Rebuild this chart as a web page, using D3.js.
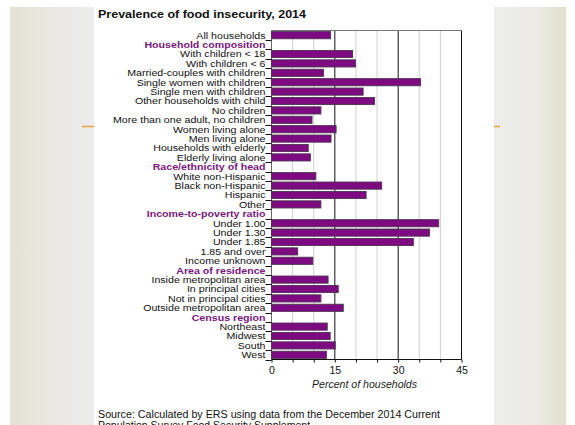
<!DOCTYPE html>
<html><head><meta charset="utf-8">
<script src="https://cdn.jsdelivr.net/npm/d3@7"></script>
<style>body{margin:0;background:#fff}svg{display:block}</style>
</head><body>
<script>
const categories = ["All households","Household composition","With children < 18","With children < 6","Married-couples with children","Single women with children","Single men with children","Other households with child","No children","More than one adult, no children","Women living alone","Men living alone","Households with elderly","Elderly living alone","Race/ethnicity of head","White non-Hispanic","Black non-Hispanic","Hispanic","Other","Income-to-poverty ratio","Under 1.00","Under 1.30","Under 1.85","1.85 and over","Income unknown","Area of residence","Inside metropolitan area","In principal cities","Not in principal cities","Outside metropolitan area","Census region","Northeast","Midwest","South","West"];
const headers = ["Household composition","Race/ethnicity of head","Income-to-poverty ratio","Area of residence","Census region"];
const values = [14.0,null,19.2,19.9,12.3,35.3,21.7,24.4,11.7,9.6,15.3,14.1,8.7,9.2,null,10.5,26.1,22.4,11.7,null,39.6,37.4,33.6,6.2,9.8,null,13.4,15.8,11.7,17.0,null,13.2,13.9,15.1,13.0];
const xTicks = [0,15,30,45];
const minorTicks = [5,10,20,25,35,40];
const title = "Prevalence of food insecurity, 2014";
const xTitle = "Percent of households";
const source1 = "Source: Calculated by ERS using data from the December 2014 Current";
const source2 = "Population Survey Food Security Supplement.";

const W = 575, H = 425;
const FONT = "'Liberation Sans', Arial, Helvetica, sans-serif";
const svg = d3.select("body").append("svg").attr("width", W).attr("height", H)
  .style("font-family", FONT);

const defs = svg.append("defs");
const gL = defs.append("linearGradient").attr("id","gl").attr("x1","0").attr("x2","1").attr("y1","0").attr("y2","0");
gL.append("stop").attr("offset","0").attr("stop-color","#e4e2d2");
gL.append("stop").attr("offset","0.5").attr("stop-color","#e9e8e2");
gL.append("stop").attr("offset","1").attr("stop-color","#ececec");
const gR = defs.append("linearGradient").attr("id","gr").attr("x1","0").attr("x2","1").attr("y1","0").attr("y2","0");
gR.append("stop").attr("offset","0").attr("stop-color","#ededed");
gR.append("stop").attr("offset","0.6").attr("stop-color","#ebeae4");
gR.append("stop").attr("offset","1").attr("stop-color","#e2e0cd");

svg.append("rect").attr("x",10).attr("y",7).attr("width",84).attr("height",H-7).attr("fill","url(#gl)");
svg.append("rect").attr("x",494).attr("y",7).attr("width",72).attr("height",H-7).attr("fill","url(#gr)");
svg.append("line").attr("x1",82).attr("x2",500).attr("y1",126.5).attr("y2",126.5).attr("stroke","#e8a040").attr("stroke-width",1.5);
svg.append("rect").attr("x",94).attr("y",7).attr("width",400).attr("height",H-7).attr("fill","#fff");

const x = d3.scaleLinear().domain([0,45]).range([271.5,461.5]);
const y = d3.scaleBand().domain(categories).range([30.5,359.5]).paddingInner(0.24).paddingOuter(0.12);
const step = y.step();

// gridlines
svg.append("g").selectAll("line").data(minorTicks).join("line")
  .attr("x1",d=>x(d)).attr("x2",d=>x(d)).attr("y1",30.5).attr("y2",359.5)
  .attr("stroke","#cfcfcf").attr("stroke-width",1);
svg.append("g").selectAll("line").data(xTicks.slice(1)).join("line")
  .attr("x1",d=>x(d)).attr("x2",d=>x(d)).attr("y1",30.5).attr("y2",359.5)
  .attr("stroke","#111").attr("stroke-width",1);
svg.append("line").attr("x1",x(0)).attr("x2",x(45)).attr("y1",30.5).attr("y2",30.5).attr("stroke","#777");
svg.append("line").attr("x1",x(0)).attr("x2",x(0)).attr("y1",30.5).attr("y2",359.5).attr("stroke","#666");

// bars
const data = categories.map((c,i)=>({c, v: values[i]})).filter(d=>d.v!==null);
svg.append("g").selectAll("rect").data(data).join("rect")
  .attr("x",x(0)).attr("y",d=>y(d.c)).attr("width",d=>x(d.v)-x(0)).attr("height",y.bandwidth())
  .attr("fill","#7d0a80").attr("stroke","#4d3350").attr("stroke-width",0.9);

// y labels & ticks (labels slightly widened like the reference)
const yl = svg.append("g");
yl.selectAll("text").data(categories).join("text")
  .attr("transform", d=>`translate(265.5,${y(d)+y.bandwidth()/2+3.4}) scale(1.12,1)`)
  .attr("text-anchor","end")
  .attr("font-size", 9.5)
  .attr("font-weight", d=>headers.includes(d)?"bold":"normal")
  .attr("fill", d=>headers.includes(d)?"#7a1680":"#111")
  .text(d=>d);
yl.selectAll("line").data(categories).join("line")
  .attr("x1",265.5).attr("x2",271.5)
  .attr("y1",d=>Math.round(y(d)-step*0.12+step)+0.5).attr("y2",d=>Math.round(y(d)-step*0.12+step)+0.5)
  .attr("stroke","#111").attr("stroke-width",1);

// x axis
const xAxis = d3.axisBottom(x).tickValues(d3.range(0,46,5)).tickSize(3)
  .tickFormat(d=>xTicks.includes(d)?d:"");
const gx = svg.append("g").attr("transform","translate(0,359.5)").call(xAxis);
gx.select(".domain").attr("stroke","#111").attr("d", `M${x(0)},0H${x(45)}`);
gx.selectAll(".tick line").attr("stroke","#111");
gx.selectAll(".tick text").attr("font-size",10.5).attr("fill","#111").attr("dy","0.85em")
  .attr("font-family",FONT);

svg.append("text").attr("x",(x(0)+x(45))/2 - 2).attr("y",388).attr("text-anchor","middle")
  .attr("font-size",10).attr("font-style","italic").attr("fill","#222")
  .attr("textLength",105).attr("lengthAdjust","spacingAndGlyphs").text(xTitle);

svg.append("text").attr("x",98).attr("y",18).attr("font-size",11).attr("font-weight","bold").attr("fill","#111")
  .attr("textLength",208).attr("lengthAdjust","spacingAndGlyphs").text(title);
svg.append("text").attr("x",98).attr("y",417.5).attr("font-size",10.3).attr("fill","#111")
  .attr("textLength",342).attr("lengthAdjust","spacingAndGlyphs").text(source1);
svg.append("text").attr("x",98).attr("y",428.5).attr("font-size",10.3).attr("fill","#111")
  .attr("textLength",215).attr("lengthAdjust","spacingAndGlyphs").text(source2);
</script>
</body></html>
